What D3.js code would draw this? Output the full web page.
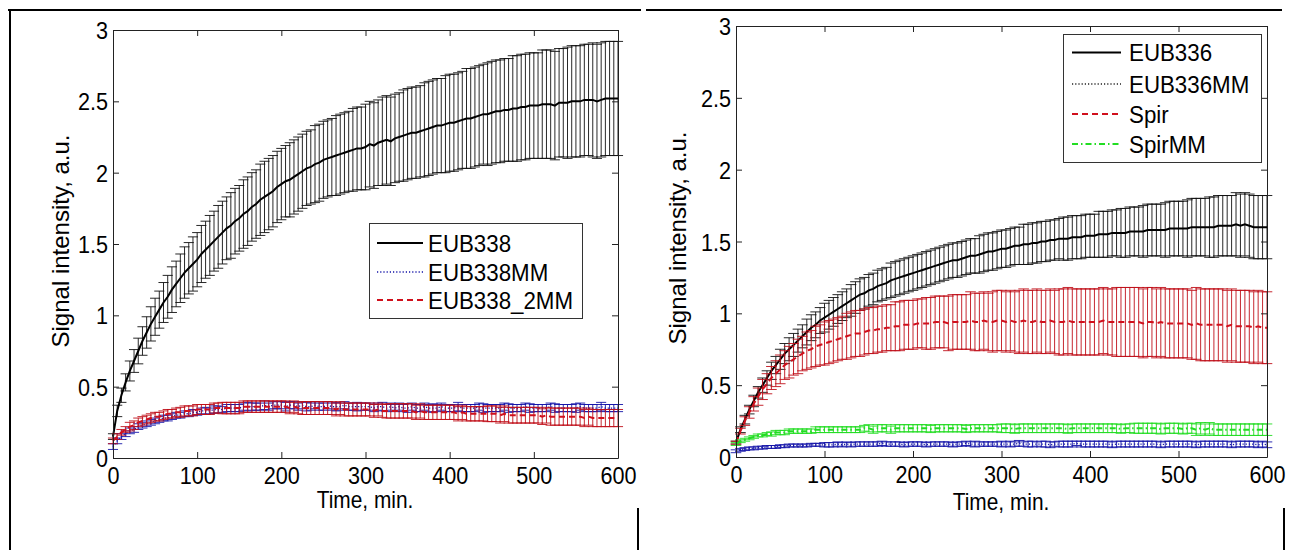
<!DOCTYPE html>
<html><head><meta charset="utf-8">
<script src="https://cdn.jsdelivr.net/npm/d3@7/dist/d3.min.js"></script>
<style>
html,body{margin:0;padding:0;background:#fff;}
svg{display:block;}
text{font-family:"Liberation Sans",Arial,Helvetica,sans-serif;fill:#000;}
</style></head>
<body>
<svg id="chart" width="1291" height="550"></svg>
<script>
// ---------- data ----------
const time = [0,5,10,15,20,25,30,35,40,45,50,55,60,65,70,75,80,85,90,95,100,105,110,115,120,125,130,135,140,145,150,155,160,165,170,175,180,185,190,195,200,205,210,215,220,225,230,235,240,245,250,255,260,265,270,275,280,285,290,295,300,305,310,315,320,325,330,335,340,345,350,355,360,365,370,375,380,385,390,395,400,405,410,415,420,425,430,435,440,445,450,455,460,465,470,475,480,485,490,495,500,505,510,515,520,525,530,535,540,545,550,555,560,565,570,575,580,585,590,595,600];

const xTicks = [0,100,200,300,400,500,600];
const xTickLabels = ["0","100","200","300","400","500","600"];
const yTicks = [0,0.5,1,1.5,2,2.5,3];
const yTickLabels = ["0","0.5","1","1.5","2","2.5","3"];

// Left panel series
const leftNames = ["EUB338","EUB338MM","EUB338_2MM"];
const eub338 = [0.15,0.33,0.44,0.53,0.61,0.68,0.75,0.82,0.88,0.94,
0.99,1.04,1.09,1.13,1.18,1.22,1.26,1.30,1.33,1.36,
1.39,1.43,1.46,1.49,1.52,1.55,1.58,1.61,1.63,1.66,
1.68,1.71,1.73,1.76,1.78,1.81,1.83,1.85,1.87,1.90,
1.92,1.94,1.95,1.97,1.99,2.01,2.03,2.04,2.06,2.07,
2.09,2.10,2.11,2.12,2.13,2.14,2.15,2.16,2.17,2.17,
2.18,2.20,2.19,2.21,2.22,2.23,2.22,2.24,2.25,2.26,
2.27,2.28,2.28,2.29,2.30,2.31,2.32,2.33,2.33,2.34,
2.35,2.35,2.36,2.37,2.38,2.38,2.39,2.40,2.41,2.41,
2.42,2.43,2.43,2.44,2.44,2.45,2.45,2.46,2.46,2.47,
2.47,2.47,2.48,2.48,2.48,2.47,2.49,2.49,2.49,2.50,
2.50,2.50,2.51,2.51,2.51,2.50,2.51,2.52,2.52,2.52,
2.52];
const eub338Err = [0.02,0.04,0.05,0.06,0.07,0.08,0.09,0.10,0.11,0.12,
0.13,0.13,0.14,0.15,0.16,0.16,0.17,0.18,0.18,0.19,
0.19,0.20,0.20,0.21,0.21,0.22,0.22,0.22,0.23,0.23,
0.23,0.24,0.24,0.24,0.24,0.25,0.25,0.25,0.25,0.25,
0.25,0.25,0.26,0.26,0.26,0.26,0.26,0.26,0.27,0.27,
0.27,0.27,0.27,0.28,0.28,0.28,0.28,0.29,0.29,0.29,
0.30,0.30,0.30,0.30,0.31,0.31,0.31,0.31,0.31,0.32,
0.32,0.32,0.32,0.32,0.33,0.33,0.33,0.33,0.33,0.34,
0.34,0.34,0.34,0.34,0.35,0.35,0.35,0.35,0.35,0.36,
0.36,0.36,0.36,0.36,0.36,0.37,0.37,0.37,0.37,0.37,
0.37,0.37,0.38,0.38,0.38,0.38,0.38,0.38,0.39,0.39,
0.39,0.39,0.39,0.39,0.40,0.40,0.40,0.40,0.40,0.40,
0.40];
const eub338mm = [0.08,0.12,0.15,0.17,0.19,0.20,0.22,0.23,0.24,0.25,
0.26,0.27,0.28,0.28,0.29,0.30,0.30,0.31,0.31,0.32,
0.32,0.33,0.33,0.33,0.34,0.34,0.34,0.35,0.35,0.35,
0.35,0.36,0.36,0.36,0.36,0.36,0.37,0.36,0.37,0.37,
0.37,0.36,0.37,0.37,0.36,0.37,0.36,0.36,0.37,0.36,
0.36,0.37,0.36,0.36,0.36,0.37,0.36,0.36,0.36,0.36,
0.36,0.36,0.35,0.36,0.36,0.35,0.36,0.35,0.36,0.35,
0.35,0.36,0.35,0.35,0.36,0.35,0.35,0.35,0.36,0.35,
0.35,0.35,0.36,0.35,0.35,0.35,0.35,0.36,0.35,0.35,
0.35,0.35,0.35,0.36,0.35,0.35,0.35,0.35,0.36,0.35,
0.35,0.35,0.35,0.35,0.36,0.35,0.35,0.35,0.35,0.35,
0.35,0.36,0.35,0.35,0.35,0.35,0.36,0.35,0.35,0.35,
0.35];
const eub338mmErr = [0.02,0.02,0.02,0.02,0.02,0.02,0.02,0.02,0.02,0.02,
0.02,0.02,0.02,0.02,0.02,0.02,0.02,0.02,0.02,0.02,
0.02,0.02,0.025,0.02,0.025,0.025,0.02,0.025,0.025,0.025,
0.025,0.025,0.03,0.025,0.025,0.025,0.03,0.025,0.025,0.025,
0.025,0.03,0.025,0.025,0.025,0.025,0.03,0.025,0.025,0.025,
0.025,0.025,0.025,0.03,0.025,0.025,0.025,0.025,0.03,0.025,
0.025,0.025,0.025,0.025,0.03,0.025,0.025,0.025,0.025,0.025,
0.03,0.025,0.025,0.025,0.025,0.025,0.03,0.025,0.025,0.025,
0.025,0.025,0.03,0.025,0.025,0.025,0.025,0.025,0.03,0.025,
0.025,0.025,0.025,0.025,0.03,0.025,0.025,0.025,0.025,0.03,
0.025,0.025,0.025,0.025,0.025,0.03,0.025,0.025,0.025,0.025,
0.03,0.025,0.025,0.025,0.025,0.025,0.03,0.025,0.025,0.025,
0.025];
const eub338mm2 = [0.12,0.15,0.18,0.20,0.22,0.23,0.25,0.26,0.27,0.28,
0.29,0.29,0.30,0.31,0.31,0.32,0.32,0.33,0.33,0.33,
0.34,0.34,0.34,0.34,0.35,0.35,0.35,0.35,0.35,0.35,
0.35,0.36,0.36,0.36,0.36,0.36,0.36,0.36,0.36,0.36,
0.36,0.36,0.35,0.36,0.35,0.35,0.35,0.35,0.35,0.35,
0.35,0.35,0.35,0.34,0.35,0.34,0.34,0.34,0.34,0.34,
0.34,0.34,0.33,0.34,0.33,0.33,0.33,0.33,0.33,0.33,
0.33,0.33,0.32,0.33,0.32,0.32,0.32,0.32,0.32,0.32,
0.32,0.32,0.31,0.32,0.31,0.31,0.31,0.31,0.31,0.31,
0.31,0.31,0.30,0.31,0.30,0.30,0.30,0.30,0.30,0.30,
0.30,0.30,0.29,0.30,0.29,0.29,0.29,0.29,0.29,0.29,
0.29,0.29,0.28,0.29,0.28,0.28,0.28,0.28,0.28,0.28,
0.28];
const eub338mm2Err = [0.02,0.02,0.02,0.02,0.03,0.03,0.03,0.03,0.03,0.03,
0.03,0.03,0.03,0.03,0.03,0.03,0.035,0.035,0.035,0.035,
0.035,0.035,0.035,0.035,0.035,0.035,0.04,0.04,0.04,0.04,
0.04,0.04,0.04,0.04,0.04,0.04,0.04,0.04,0.04,0.04,
0.04,0.04,0.04,0.04,0.04,0.045,0.045,0.045,0.045,0.045,
0.045,0.045,0.045,0.045,0.045,0.045,0.045,0.045,0.045,0.045,
0.045,0.045,0.045,0.045,0.045,0.05,0.05,0.05,0.05,0.05,
0.05,0.05,0.05,0.05,0.05,0.05,0.05,0.05,0.05,0.05,
0.05,0.05,0.05,0.05,0.05,0.05,0.05,0.05,0.05,0.055,
0.055,0.055,0.055,0.055,0.055,0.055,0.055,0.055,0.055,0.055,
0.055,0.055,0.055,0.055,0.06,0.06,0.06,0.06,0.06,0.06,
0.06,0.06,0.06,0.06,0.06,0.06,0.06,0.06,0.06,0.06,
0.06];

// Right panel series
const rightNames = ["EUB336","EUB336MM","Spir","SpirMM"];
const eub336 = [0.10,0.19,0.26,0.33,0.39,0.45,0.50,0.55,0.60,0.64,
0.68,0.72,0.75,0.78,0.81,0.84,0.87,0.90,0.92,0.95,
0.97,0.99,1.01,1.03,1.05,1.07,1.09,1.11,1.13,1.14,
1.16,1.17,1.19,1.20,1.21,1.23,1.24,1.25,1.26,1.27,
1.28,1.29,1.30,1.31,1.32,1.33,1.34,1.35,1.36,1.37,
1.37,1.38,1.39,1.40,1.40,1.41,1.42,1.43,1.43,1.44,
1.45,1.45,1.46,1.47,1.47,1.48,1.48,1.49,1.49,1.50,
1.50,1.51,1.51,1.52,1.52,1.52,1.53,1.53,1.53,1.54,
1.54,1.54,1.55,1.55,1.55,1.56,1.56,1.56,1.56,1.57,
1.57,1.57,1.57,1.58,1.58,1.58,1.58,1.58,1.59,1.59,
1.59,1.59,1.59,1.60,1.60,1.60,1.60,1.60,1.60,1.61,
1.61,1.61,1.61,1.62,1.61,1.62,1.61,1.60,1.60,1.60,
1.60];
const eub336Err = [0.01,0.02,0.03,0.03,0.04,0.04,0.05,0.05,0.06,0.06,
0.07,0.07,0.08,0.08,0.08,0.08,0.09,0.09,0.09,0.09,
0.10,0.10,0.10,0.10,0.10,0.10,0.11,0.11,0.11,0.11,
0.11,0.11,0.11,0.11,0.11,0.12,0.12,0.12,0.12,0.12,
0.12,0.12,0.12,0.12,0.12,0.12,0.12,0.12,0.12,0.12,
0.12,0.12,0.12,0.12,0.12,0.13,0.13,0.13,0.13,0.13,
0.13,0.13,0.13,0.13,0.13,0.14,0.14,0.14,0.14,0.14,
0.14,0.14,0.14,0.14,0.15,0.15,0.15,0.15,0.15,0.15,
0.15,0.15,0.16,0.16,0.16,0.16,0.16,0.17,0.17,0.17,
0.17,0.17,0.18,0.18,0.18,0.18,0.18,0.19,0.19,0.19,
0.19,0.19,0.20,0.20,0.20,0.20,0.20,0.21,0.21,0.21,
0.21,0.21,0.21,0.22,0.22,0.22,0.22,0.22,0.22,0.22,
0.22];
const eub336mm = [0.04,0.05,0.055,0.06,0.06,0.065,0.065,0.07,0.07,0.07,
0.075,0.075,0.08,0.08,0.08,0.08,0.08,0.085,0.085,0.085,
0.085,0.085,0.085,0.09,0.085,0.09,0.085,0.09,0.09,0.09,
0.09,0.09,0.09,0.095,0.09,0.09,0.09,0.09,0.085,0.09,
0.09,0.09,0.09,0.085,0.09,0.09,0.09,0.09,0.09,0.085,
0.09,0.09,0.095,0.09,0.09,0.09,0.09,0.09,0.09,0.09,
0.09,0.09,0.09,0.09,0.095,0.09,0.09,0.09,0.09,0.09,
0.09,0.085,0.09,0.09,0.09,0.09,0.09,0.095,0.09,0.09,
0.09,0.09,0.09,0.09,0.09,0.085,0.09,0.09,0.09,0.09,
0.09,0.09,0.09,0.09,0.09,0.09,0.085,0.09,0.09,0.09,
0.09,0.09,0.09,0.09,0.085,0.09,0.09,0.09,0.09,0.09,
0.09,0.09,0.085,0.09,0.09,0.09,0.09,0.09,0.085,0.09,
0.085];
const eub336mmErr = [0.01,0.01,0.01,0.01,0.01,0.01,0.01,0.01,0.01,0.01,
0.01,0.01,0.01,0.01,0.01,0.01,0.01,0.01,0.01,0.01,
0.015,0.015,0.015,0.015,0.015,0.015,0.015,0.015,0.015,0.015,
0.015,0.015,0.015,0.015,0.015,0.015,0.015,0.015,0.015,0.015,
0.015,0.015,0.015,0.015,0.015,0.015,0.015,0.015,0.015,0.015,
0.015,0.015,0.015,0.015,0.02,0.015,0.015,0.015,0.015,0.015,
0.02,0.015,0.02,0.015,0.02,0.015,0.02,0.02,0.015,0.02,
0.02,0.02,0.015,0.02,0.02,0.02,0.02,0.015,0.02,0.02,
0.02,0.02,0.02,0.02,0.02,0.02,0.02,0.02,0.02,0.02,
0.02,0.02,0.02,0.02,0.02,0.02,0.02,0.02,0.02,0.02,
0.02,0.02,0.02,0.02,0.02,0.02,0.02,0.02,0.02,0.02,
0.02,0.02,0.02,0.02,0.02,0.02,0.02,0.02,0.02,0.02,
0.02];
const spir = [0.10,0.18,0.25,0.31,0.37,0.42,0.47,0.51,0.55,0.58,
0.61,0.64,0.66,0.68,0.70,0.72,0.74,0.75,0.77,0.78,
0.79,0.80,0.81,0.82,0.83,0.84,0.85,0.86,0.86,0.87,
0.88,0.88,0.89,0.89,0.90,0.90,0.91,0.91,0.92,0.92,
0.92,0.93,0.93,0.93,0.93,0.94,0.94,0.94,0.93,0.94,
0.94,0.94,0.94,0.95,0.94,0.94,0.95,0.94,0.94,0.95,
0.95,0.94,0.95,0.94,0.94,0.95,0.94,0.94,0.95,0.94,
0.94,0.95,0.94,0.94,0.94,0.95,0.94,0.94,0.94,0.94,
0.94,0.94,0.94,0.95,0.94,0.94,0.94,0.94,0.94,0.94,
0.94,0.94,0.93,0.94,0.94,0.93,0.94,0.93,0.93,0.93,
0.93,0.93,0.93,0.92,0.93,0.92,0.92,0.92,0.92,0.92,
0.92,0.91,0.92,0.91,0.91,0.91,0.91,0.90,0.91,0.90,
0.90];
const spirErr = [0.01,0.02,0.03,0.04,0.05,0.06,0.07,0.07,0.08,0.09,
0.10,0.10,0.11,0.11,0.12,0.12,0.13,0.13,0.14,0.14,
0.15,0.15,0.15,0.15,0.15,0.16,0.16,0.16,0.16,0.16,
0.16,0.16,0.16,0.16,0.16,0.16,0.17,0.17,0.17,0.17,
0.17,0.17,0.17,0.18,0.18,0.18,0.18,0.18,0.19,0.19,
0.19,0.19,0.19,0.20,0.20,0.20,0.20,0.20,0.21,0.21,
0.21,0.21,0.21,0.21,0.22,0.22,0.22,0.22,0.22,0.22,
0.22,0.22,0.22,0.23,0.23,0.23,0.23,0.23,0.23,0.23,
0.23,0.23,0.23,0.23,0.23,0.23,0.24,0.24,0.24,0.24,
0.24,0.24,0.24,0.24,0.24,0.24,0.24,0.24,0.24,0.24,
0.24,0.24,0.24,0.24,0.25,0.25,0.25,0.25,0.25,0.25,
0.25,0.25,0.25,0.25,0.25,0.25,0.25,0.25,0.25,0.25,
0.25];
const spirmm = [0.09,0.11,0.12,0.13,0.14,0.15,0.15,0.16,0.16,0.17,
0.17,0.17,0.18,0.18,0.18,0.18,0.18,0.18,0.19,0.19,
0.19,0.19,0.19,0.19,0.19,0.19,0.19,0.19,0.19,0.20,
0.20,0.19,0.20,0.20,0.20,0.19,0.20,0.20,0.20,0.20,
0.20,0.20,0.20,0.20,0.195,0.20,0.20,0.20,0.20,0.20,
0.20,0.20,0.195,0.20,0.20,0.20,0.20,0.20,0.20,0.20,
0.20,0.20,0.20,0.195,0.20,0.20,0.20,0.20,0.20,0.20,
0.20,0.20,0.20,0.20,0.20,0.195,0.20,0.20,0.20,0.20,
0.20,0.20,0.20,0.20,0.20,0.20,0.20,0.195,0.20,0.20,
0.20,0.20,0.20,0.20,0.20,0.20,0.195,0.20,0.20,0.20,
0.20,0.195,0.20,0.20,0.19,0.20,0.19,0.20,0.19,0.19,
0.19,0.19,0.19,0.19,0.19,0.19,0.19,0.19,0.19,0.19,
0.19];
const spirmmErr = [0.01,0.01,0.01,0.01,0.01,0.01,0.01,0.01,0.015,0.015,
0.015,0.015,0.015,0.015,0.015,0.015,0.015,0.015,0.02,0.02,
0.02,0.02,0.02,0.02,0.02,0.02,0.02,0.02,0.02,0.02,
0.025,0.025,0.025,0.025,0.025,0.025,0.025,0.025,0.025,0.025,
0.025,0.025,0.025,0.025,0.025,0.025,0.025,0.025,0.025,0.025,
0.025,0.025,0.025,0.025,0.025,0.025,0.025,0.025,0.025,0.025,
0.03,0.03,0.03,0.03,0.03,0.03,0.03,0.03,0.03,0.03,
0.03,0.03,0.03,0.03,0.03,0.03,0.03,0.03,0.03,0.03,
0.03,0.03,0.03,0.03,0.03,0.03,0.03,0.03,0.03,0.03,
0.035,0.035,0.035,0.035,0.035,0.035,0.035,0.035,0.035,0.035,
0.035,0.035,0.035,0.035,0.04,0.04,0.04,0.04,0.04,0.04,
0.04,0.04,0.04,0.04,0.04,0.04,0.04,0.04,0.04,0.04,
0.04];

// ---------- styling ----------
const COL_BLACK = "#000000", COL_BLUE = "#1414a8", COL_RED = "#d0101c", COL_GREEN = "#22dd22";
const styleSolid = {color:COL_BLACK, bar:"#111", dash:null, width:2};
const styleDot   = {color:COL_BLUE, bar:COL_BLUE, dash:"1.2,2", width:1.3};
const styleDash  = {color:COL_RED, bar:"#c0101a", dash:"6,4", width:2};
const styleDashDot = {color:COL_GREEN, bar:COL_GREEN, dash:"6,3,1.5,3", width:2};

const panels = [
  {
    xr:[113,618], yr:[458,30],
    series:[
      {name:leftNames[0], m:eub338, e:eub338Err, s:styleSolid},
      {name:leftNames[1], m:eub338mm, e:eub338mmErr, s:styleDot},
      {name:leftNames[2], m:eub338mm2, e:eub338mm2Err, s:styleDash}
    ],
    legend:{x:369, y:223, w:213, h:95, rows:[243,272,300], lx1:377, lx2:423, tx:428},
    xlab:{x:365, y:508}, ylab:{x:68.5, y:241}
  },
  {
    xr:[736,1267], yr:[457,26],
    series:[
      {name:rightNames[0], m:eub336, e:eub336Err, s:styleSolid},
      {name:rightNames[1], m:eub336mm, e:eub336mmErr, s:{...styleDot, legendColor:"#222"}},
      {name:rightNames[2], m:spir, e:spirErr, s:styleDash},
      {name:rightNames[3], m:spirmm, e:spirmmErr, s:styleDashDot}
    ],
    legend:{x:1063, y:34, w:198, h:128, rows:[52.5,84,114,144], lx1:1072, lx2:1121, tx:1129},
    xlab:{x:1001, y:510}, ylab:{x:686, y:238}
  }
];

const svg = d3.select("#chart");
const FONT = 24;
const CAP = 6; // half cap width in minutes

panels.forEach(p => {
  const x = d3.scaleLinear().domain([0,600]).range(p.xr);
  const y = d3.scaleLinear().domain([0,3]).range(p.yr);
  const g = svg.append("g");

  // series
  p.series.forEach(se => {
    let d = "";
    time.forEach((t,i) => {
      const m = se.m[i], e = se.e[i];
      const xt = x(t), yh = y(m+e), yl = y(m-e);
      const xa = x(t-CAP), xb = x(t+CAP);
      d += `M${xt},${yh}V${yl}M${xa},${yh}H${xb}M${xa},${yl}H${xb}`;
    });
    g.append("path").attr("d", d).attr("fill","none")
      .attr("stroke", se.s.bar).attr("stroke-width", 0.9);
    const line = d3.line().x((t)=>x(t)).y((t,i)=>y(se.m[i]));
    g.append("path").attr("d", line(time)).attr("fill","none")
      .attr("stroke", se.s.color).attr("stroke-width", se.s.width)
      .attr("stroke-dasharray", se.s.dash);
  });

  // axes
  const ax = g.append("g");
  const bottom = ax.append("g").attr("transform",`translate(0,${p.yr[0]})`)
    .call(d3.axisBottom(x).tickValues(xTicks).tickFormat((d,i)=>xTickLabels[i])
      .tickSizeInner(-6).tickSizeOuter(0).tickPadding(9));
  const left = ax.append("g").attr("transform",`translate(${p.xr[0]},0)`)
    .call(d3.axisLeft(y).tickValues(yTicks).tickFormat((d,i)=>yTickLabels[i])
      .tickSizeInner(-6).tickSizeOuter(0).tickPadding(5));
  ax.append("g").attr("transform",`translate(0,${p.yr[1]})`)
    .call(d3.axisTop(x).tickValues(xTicks).tickFormat("").tickSizeInner(-6).tickSizeOuter(0));
  ax.append("g").attr("transform",`translate(${p.xr[1]},0)`)
    .call(d3.axisRight(y).tickValues(yTicks).tickFormat("").tickSizeInner(-6).tickSizeOuter(0));
  ax.selectAll(".domain").attr("stroke","#222");
  ax.selectAll(".tick line").attr("stroke","#222");
  ax.selectAll("text").attr("font-size",FONT).attr("font-family",null).attr("fill","#000");
  bottom.selectAll(".tick text").attr("transform","scale(0.9,1)");
  left.selectAll(".tick text").attr("x",-5/0.9).attr("dy","0.36em").attr("transform","scale(0.9,1)");

  // axis labels
  g.append("text").attr("transform",`translate(${p.xlab.x},${p.xlab.y}) scale(0.87,1)`)
    .attr("text-anchor","middle").attr("font-size",FONT).text("Time, min.");
  g.append("text").attr("transform",`translate(${p.ylab.x},${p.ylab.y}) rotate(-90)`)
    .attr("text-anchor","middle").attr("font-size",FONT).text("Signal intensity, a.u.");

  // legend
  const L = p.legend;
  const lg = g.append("g");
  lg.append("rect").attr("x",L.x+0.5).attr("y",L.y+0.5).attr("width",L.w).attr("height",L.h)
    .attr("fill","#fff").attr("stroke","#333").attr("stroke-width",1);
  p.series.forEach((se,i) => {
    const yy = L.rows[i];
    lg.append("line").attr("x1",L.lx1).attr("x2",L.lx2).attr("y1",yy).attr("y2",yy)
      .attr("stroke", se.s.legendColor || se.s.color).attr("stroke-width", se.s.width)
      .attr("stroke-dasharray", se.s.dash);
    lg.append("text").attr("transform",`translate(${L.tx},${yy+8.5}) scale(0.93,1)`)
      .attr("font-size",FONT).text(se.name);
  });
});

// outer frame lines
const frame = [
  [8,10,641,10],[10,10,10,550],[638,508,638,550],
  [646,10,1282,10],[1284,508,1284,550]
];
svg.append("g").selectAll("line").data(frame).join("line")
  .attr("x1",d=>d[0]).attr("y1",d=>d[1]).attr("x2",d=>d[2]).attr("y2",d=>d[3])
  .attr("stroke","#000").attr("stroke-width",2);
</script>
</body></html>
